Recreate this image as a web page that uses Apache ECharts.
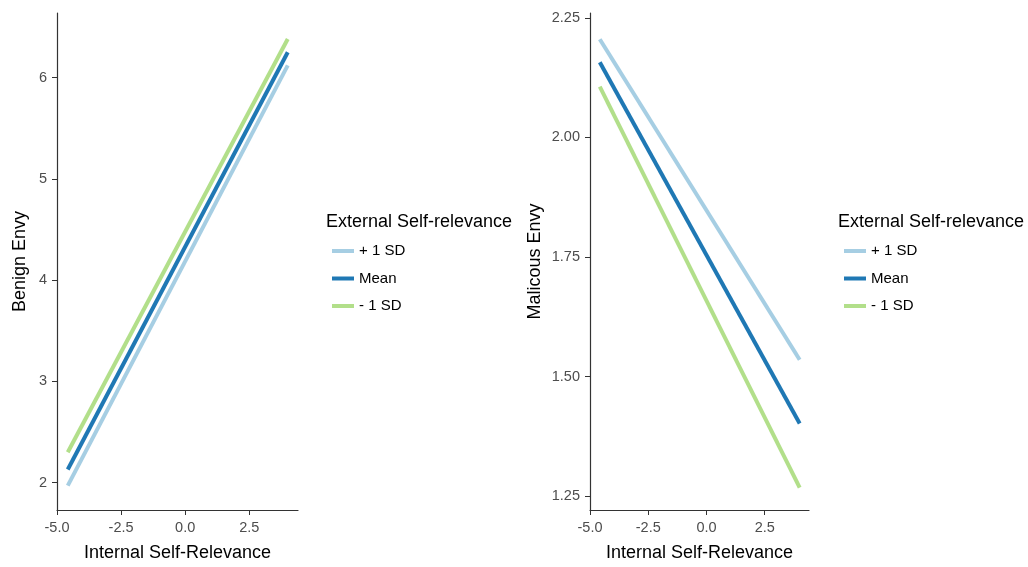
<!DOCTYPE html>
<html>
<head>
<meta charset="utf-8">
<script src="https://cdn.jsdelivr.net/npm/echarts@6/dist/echarts.min.js"></script>
<style>
  html, body { margin: 0; padding: 0; background: #ffffff; }
  #chart { width: 1028px; height: 567px; }
</style>
</head>
<body>
<div id="chart"></div>
<script>
// Simple slopes of envy on internal self-relevance at three levels of external self-relevance
const groups = ['+ 1 SD', 'Mean', '- 1 SD'];
const groupColors = ['#a6cee3', '#1f78b4', '#b2df8a'];

// Predictor range (internal self-relevance), line endpoints
const xRange = [-4.58, 4.0];

// Benign envy predicted at the two ends of the range, per group
const benignPlus = [1.97, 6.12];
const benignMean = [2.13, 6.25];
const benignMinus = [2.30, 6.38];

// Malicious envy predicted at the two ends of the range, per group
const maliciousPlus = [2.205, 1.535];
const maliciousMean = [2.157, 1.402];
const maliciousMinus = [2.106, 1.268];

// Tick values
const xTicks = [-5.0, -2.5, 0.0, 2.5];
const benignTicks = [2, 3, 4, 5, 6];
const maliciousTicks = [1.25, 1.50, 1.75, 2.00, 2.25];

const FONT = '"Liberation Sans", Arial, sans-serif';

function pairs(ys) {
  return xRange.map((x, i) => [x, ys[i]]);
}

function xAxisCfg(gridIndex) {
  return {
    type: 'value', gridIndex,
    min: -5.0, max: 4.4,
    name: 'Internal Self-Relevance',
    nameLocation: 'middle', nameGap: 34,
    nameTextStyle: { fontFamily: FONT, fontSize: 18, color: '#000000' },
    axisLine: { show: true, onZero: false, lineStyle: { color: '#333333', width: 1.2 } },
    axisTick: { show: true, length: 5, lineStyle: { color: '#333333' }, customValues: xTicks },
    axisLabel: { fontFamily: FONT, fontSize: 14.5, color: '#4d4d4d', margin: 10,
                 customValues: xTicks, formatter: v => v.toFixed(1) },
    splitLine: { show: false }
  };
}

function yAxisCfg(gridIndex, name, min, max, ticks, digits, gap) {
  return {
    type: 'value', gridIndex,
    min, max,
    name,
    nameLocation: 'middle', nameGap: gap,
    nameTextStyle: { fontFamily: FONT, fontSize: 18, color: '#000000' },
    axisLine: { show: true, onZero: false, lineStyle: { color: '#333333', width: 1.2 } },
    axisTick: { show: true, length: 5, lineStyle: { color: '#333333' }, customValues: ticks },
    axisLabel: { fontFamily: FONT, fontSize: 14.5, color: '#4d4d4d', margin: 10,
                 customValues: ticks, formatter: v => v.toFixed(digits) },
    splitLine: { show: false }
  };
}

function lineSeries(name, color, axisIndex, ys) {
  return {
    type: 'line', name,
    xAxisIndex: axisIndex, yAxisIndex: axisIndex,
    data: pairs(ys),
    showSymbol: false, symbol: 'none',
    lineStyle: { color, width: 4 },
    itemStyle: { color },
    silent: true
  };
}

function legendCfg(left) {
  return {
    orient: 'vertical', left, top: 238,
    data: groups,
    icon: 'rect', itemWidth: 22, itemHeight: 4, itemGap: 11.5,
    textStyle: { fontFamily: FONT, fontSize: 15, color: '#000000', lineHeight: 16 },
    selectedMode: false
  };
}

const legendTitle = {
  fontFamily: FONT, fontSize: 18, fontWeight: 'normal', color: '#000000'
};

const chart = echarts.init(document.getElementById('chart'), null, { renderer: 'canvas' });

chart.setOption({
  animation: false,
  backgroundColor: '#ffffff',
  title: [
    { text: 'External Self-relevance', left: 326, top: 213, textStyle: legendTitle, padding: 0 },
    { text: 'External Self-relevance', left: 838, top: 213, textStyle: legendTitle, padding: 0 }
  ],
  legend: [legendCfg(327), legendCfg(839)],
  grid: [
    { left: 57, top: 13, width: 241, height: 503 },
    { left: 590, top: 13, width: 219, height: 503 }
  ],
  xAxis: [xAxisCfg(0), xAxisCfg(1)],
  yAxis: [
    yAxisCfg(0, 'Benign Envy', 1.730, 6.637, benignTicks, 0, 28),
    yAxisCfg(1, 'Malicous Envy', 1.221, 2.260, maliciousTicks, 2, 46)
  ],
  series: [
    lineSeries(groups[0], groupColors[0], 0, benignPlus),
    lineSeries(groups[1], groupColors[1], 0, benignMean),
    lineSeries(groups[2], groupColors[2], 0, benignMinus),
    lineSeries(groups[0], groupColors[0], 1, maliciousPlus),
    lineSeries(groups[1], groupColors[1], 1, maliciousMean),
    lineSeries(groups[2], groupColors[2], 1, maliciousMinus)
  ]
});
</script>
</body>
</html>
